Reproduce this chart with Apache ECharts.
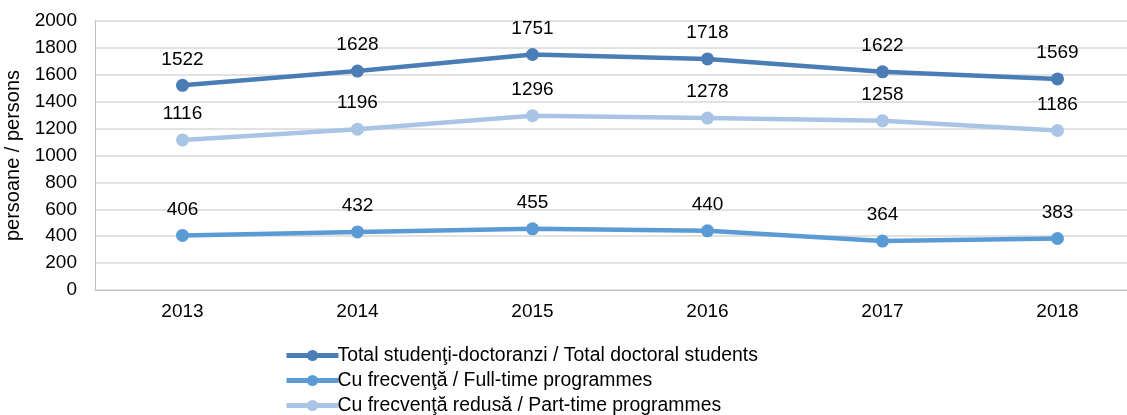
<!DOCTYPE html>
<html>
<head>
<meta charset="utf-8">
<script src="https://cdn.jsdelivr.net/npm/echarts@6/dist/echarts.min.js"></script>
<style>
  html, body { margin: 0; padding: 0; background: #fff; }
  #chart { width: 1127px; height: 415px; }
</style>
</head>
<body>
<div id="chart"></div>
<script>
const years = ['2013', '2014', '2015', '2016', '2017', '2018'];
const totalStudents = [1522, 1628, 1751, 1718, 1622, 1569];
const fullTime = [406, 432, 455, 440, 364, 383];
const partTime = [1116, 1196, 1296, 1278, 1258, 1186];

const FONT = '"Liberation Sans", Arial, sans-serif';

function lineSeries(name, data, color) {
  return {
    name: name,
    type: 'line',
    data: data,
    symbol: 'circle',
    symbolSize: 13,
    lineStyle: { width: 4.5, color: color },
    itemStyle: { color: color },
    label: {
      show: true,
      position: 'top',
      distance: 10,
      color: '#000',
      fontSize: 19,
      fontFamily: FONT
    }
  };
}

const chart = echarts.init(document.getElementById('chart'));
chart.setOption({
  animation: false,
  textStyle: { fontFamily: FONT },
  grid: { left: 95, top: 21, width: 1050, height: 269, containLabel: false, outerBoundsMode: 'none' },
  legend: {
    orient: 'vertical',
    left: 284,
    top: 346,
    padding: 0,
    itemWidth: 52,
    itemHeight: 14,
    itemGap: 6,
    lineStyle: { width: 5 },
    textStyle: { fontSize: 19.4, color: '#000', fontFamily: FONT, padding: [0, 0, 0, -6] },
    data: [
      'Total studenţi-doctoranzi / Total doctoral students',
      'Cu frecvenţă / Full-time programmes',
      'Cu frecvenţă redusă / Part-time programmes'
    ]
  },
  xAxis: {
    type: 'category',
    data: years,
    boundaryGap: true,
    axisLine: { lineStyle: { color: '#bfbfbf', width: 1 } },
    axisTick: { show: false },
    axisLabel: { color: '#000', fontSize: 19, margin: 12, fontFamily: FONT }
  },
  yAxis: {
    type: 'value',
    min: 0,
    max: 2000,
    interval: 200,
    name: 'persoane / persons',
    nameLocation: 'middle',
    nameGap: 66,
    nameTextStyle: { color: '#000', fontSize: 20, fontFamily: FONT },
    axisLine: { show: true, lineStyle: { color: '#bfbfbf', width: 1 } },
    axisTick: { show: false },
    axisLabel: { color: '#000', fontSize: 19, margin: 18, fontFamily: FONT, formatter: v => String(v) },
    splitLine: { lineStyle: { color: '#d9d9d9', width: 1.5 } }
  },
  series: [
    lineSeries('Total studenţi-doctoranzi / Total doctoral students', totalStudents, '#4a7db5'),
    lineSeries('Cu frecvenţă / Full-time programmes', fullTime, '#5b9bd5'),
    lineSeries('Cu frecvenţă redusă / Part-time programmes', partTime, '#aac4e6')
  ]
});
</script>
</body>
</html>
